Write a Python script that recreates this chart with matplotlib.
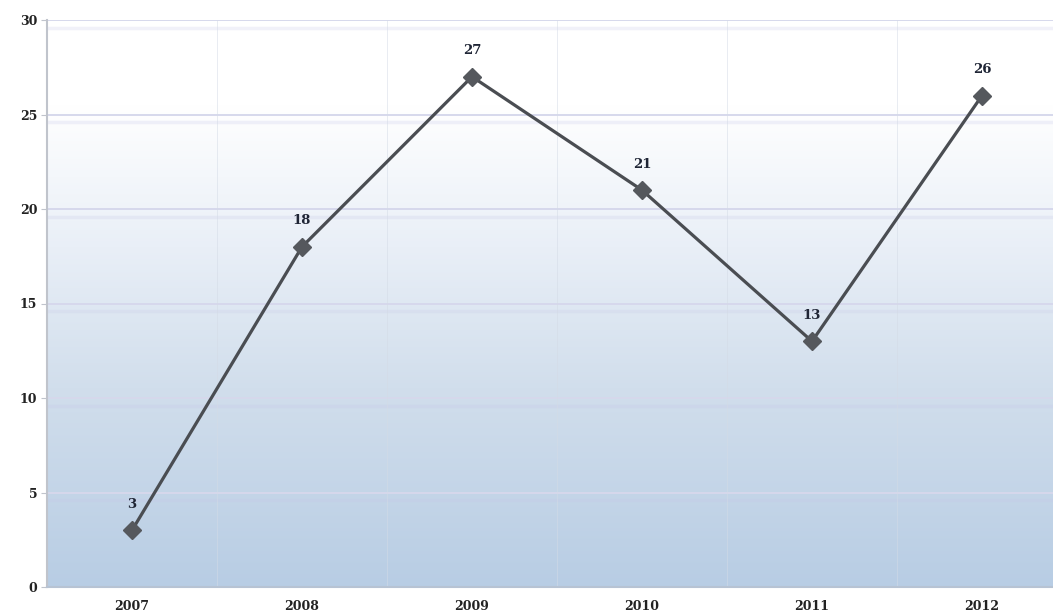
import numpy as np
import matplotlib.pyplot as plt
from matplotlib.colors import LinearSegmentedColormap

years = ["2007", "2008", "2009", "2010", "2011", "2012"]
values = [3, 18, 27, 21, 13, 26]
yticks = [0, 5, 10, 15, 20, 25, 30]

fig = plt.figure(figsize=(10.53, 6.16), dpi=100)
ax = fig.add_axes([47 / 1053, 29 / 616, 1006 / 1053, 567 / 616])

x = np.arange(len(years))
ax.set_xlim(-0.5, -0.5 + 1006 / 170)
ax.set_ylim(0, 30)

# 背景グラデーション（上:白 → 下:薄い青）
cmap = LinearSegmentedColormap.from_list(
    "bg", [(0, "#b8cde4"), (0.35, "#d1deec"), (0.6, "#e9eff7"), (0.85, "#ffffff"), (1, "#ffffff")])
grad = np.linspace(0, 1, 256).reshape(-1, 1)
ax.imshow(grad, extent=[-0.5, 6, 0, 30], origin="lower", aspect="auto", cmap=cmap, zorder=0)

# 横グリッド（下に薄い影付き）
for v in yticks[1:]:
    ax.axhline(v, color="#d6d8ec", lw=1.4, zorder=1)
    ax.axhline(v - 0.4, color="#c8c8e8", lw=2.5, alpha=0.25, zorder=1)

# カテゴリ境界の縦線
for b in np.arange(0.5, 6, 1):
    ax.axvline(b, color="#d4dbe6", lw=0.6, alpha=0.6, zorder=1)

ax.plot(x, values, color="#4a4d52", lw=2.3, marker="D", ms=9,
        markerfacecolor="#55585d", markeredgecolor="#55585d", zorder=3)

for xi, v in zip(x, values):
    ax.annotate(str(v), (xi, v), xytext=(0, 14), textcoords="offset points",
                ha="center", va="bottom", fontsize=9.5, fontweight="bold",
                family="DejaVu Serif", color="#1f2535")

ax.set_xticks(x)
ax.set_xticklabels(years)
ax.set_yticks(yticks)
for lab in ax.get_xticklabels() + ax.get_yticklabels():
    lab.set_fontfamily("DejaVu Serif")
    lab.set_fontweight("bold")
    lab.set_fontsize(9)
    lab.set_color("#222222")

ax.tick_params(axis="x", length=0, pad=9)
ax.tick_params(axis="y", length=4, color="#c0c4cc", pad=3)
for s in ["top", "right"]:
    ax.spines[s].set_visible(False)
ax.spines["left"].set_color("#c0c4cc")
ax.spines["left"].set_linewidth(1.5)
ax.spines["bottom"].set_color("#b7c3d3")
ax.spines["bottom"].set_linewidth(1.5)

fig.savefig("out.png", dpi=100)
